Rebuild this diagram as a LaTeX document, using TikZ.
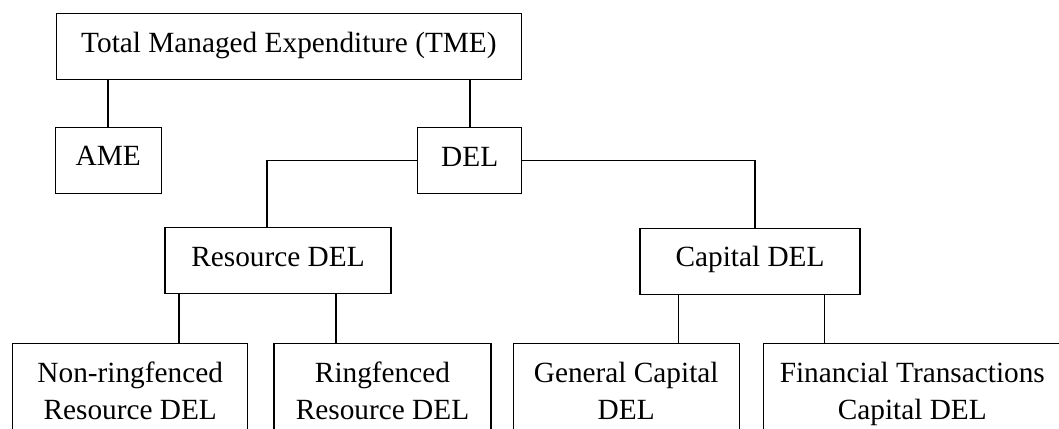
\documentclass[tikz,border=0pt]{standalone}
\usepackage{fontspec}
\setmainfont{Liberation Serif}
\begin{document}
\begin{tikzpicture}[x=1pt,y=-1pt,
  box/.style={draw, line width=1.1pt, inner sep=0pt, text height=20pt, text depth=9pt,
    font=\fontsize{29.3}{37.6}\selectfont},
  leafbox/.style={draw, line width=1.1pt, inner sep=0pt, align=center, anchor=north,
    minimum height=100pt, font=\fontsize{29.3}{37.6}\selectfont},
  link/.style={line width=1.6pt}]
\useasboundingbox (0,0) rectangle (1059,428);
\clip (0,0) rectangle (1059,428);
\node[box, minimum width=464.3pt, minimum height=66pt] (tme) at (288.9,46.7) {Total Managed Expenditure (TME)};
\node[box, minimum width=105.7pt, minimum height=66.3pt] (ame) at (108.2,160.2) {AME};
\node[box, minimum width=104pt, minimum height=65.6pt] (del) at (469.7,160.5) {DEL};
\node[box, minimum width=226pt, minimum height=65.6pt] (res) at (278,260.5) {Resource DEL};
\node[box, minimum width=220pt, minimum height=65.5pt] (cap) at (750,261.3) {Capital DEL};
\node[leafbox, minimum width=235pt] (nrf) at (130.2,343) {\strut Non-ringfenced\\\strut Resource DEL};
\node[leafbox, minimum width=217pt] (rf) at (382.5,343) {\strut Ringfenced\\\strut Resource DEL};
\node[leafbox, minimum width=225.7pt] (gc) at (626.2,343) {\strut General Capital\\\strut DEL};
\node[leafbox, minimum width=298pt] (ft) at (912.3,343) {\strut Financial Transactions\\\strut Capital DEL};
\draw[link] (tme.south -| ame.north) -- (ame.north);
\draw[link] (tme.south -| del.north) -- (del.north);
\draw[link] (del.west) -| ([xshift=-11pt]res.north);
\draw[link] (del.east) -| ([xshift=5pt]cap.north);
\draw[link] ([xshift=-99pt]res.south) -- ([xshift=-99pt]res.south |- nrf.north);
\draw[link] ([xshift=57.7pt]res.south) -- ([xshift=57.7pt]res.south |- rf.north);
\draw[link] ([xshift=-71.7pt]cap.south) -- ([xshift=-71.7pt]cap.south |- gc.north);
\draw[link] ([xshift=74.3pt]cap.south) -- ([xshift=74.3pt]cap.south |- ft.north);
\end{tikzpicture}
\end{document}
